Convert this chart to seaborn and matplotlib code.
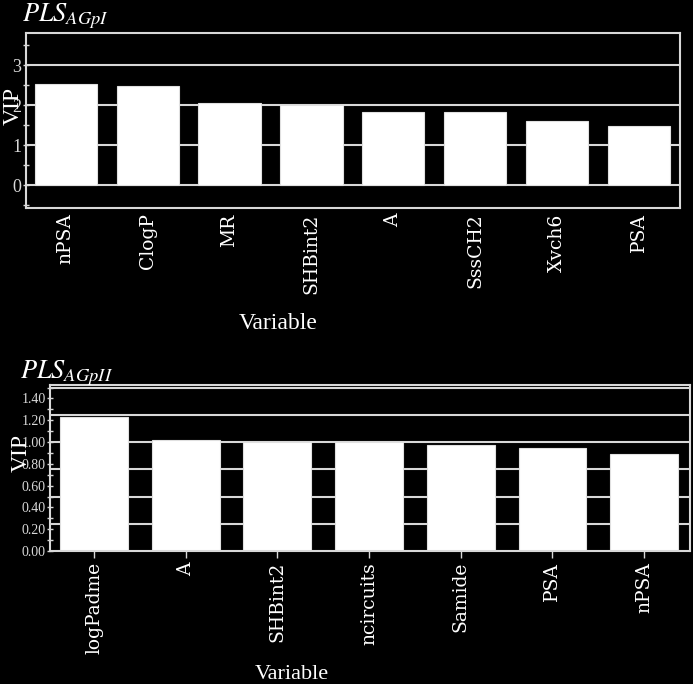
import matplotlib
matplotlib.use("Agg")
import matplotlib.pyplot as plt
import seaborn as sns
import numpy as np
import pandas as pd
from matplotlib.ticker import MultipleLocator, FormatStrFormatter

# ---- data ----
vars_top = ["nPSA", "ClogP", "MR", "SHBint2", "A", "SssCH2", "Xvch6", "PSA"]
vip_top = [2.52, 2.48, 2.06, 2.00, 1.82, 1.82, 1.60, 1.48]

vars_bot = ["logPadme", "A", "SHBint2", "ncircuits", "Samide", "PSA", "nPSA"]
vip_bot = [1.23, 1.02, 1.00, 1.00, 0.97, 0.945, 0.89]

title_top = r"$\mathit{PLS}_{\mathit{AGpI}}$"
title_bot = r"$\mathit{PLS}_{\mathit{AGpII}}$"

sns.set_style("dark")
plt.rcParams["mathtext.fontset"] = "stix"
plt.rcParams["font.family"] = ["Liberation Serif", "DejaVu Serif"]

FG = "#d8d8d8"
TICKFONT = "DejaVu Serif"
fig = plt.figure(figsize=(6.93, 6.84), dpi=100, facecolor="black")

def style_axes(ax):
    ax.set_facecolor("black")
    for s in ax.spines.values():
        s.set_visible(True)
        s.set_color(FG)
        s.set_linewidth(1.5)
    ax.grid(False)

def style_xlabels(ax):
    for lab in ax.get_xticklabels():
        lab.set_rotation(90)
        lab.set_family(TICKFONT)
        lab.set_fontsize(13.5)
        lab.set_color("white")
        lab.set_va("top")

# ---- top chart ----
ax1 = fig.add_axes([26/693, 1-208/684, 654/693, 175/684])
style_axes(ax1)
df1 = pd.DataFrame({"Variable": vars_top, "VIP": vip_top})
for y in [0, 1, 2, 3]:
    ax1.axhline(y, color=FG, lw=1.5, zorder=0)
sns.barplot(data=df1, x="Variable", y="VIP", ax=ax1, color="white",
            width=0.76, edgecolor="#e0e0e0", linewidth=0.8, saturation=1, zorder=2)
ax1.set_xlim(-0.485, 7.5)
ax1.set_ylim(-0.575, 3.8)
ax1.yaxis.set_major_locator(MultipleLocator(1))
ax1.yaxis.set_minor_locator(MultipleLocator(0.5))
ax1.yaxis.set_major_formatter(FormatStrFormatter("%d"))
ax1.tick_params(axis="y", which="both", direction="inout", length=5, width=1,
                colors=FG, labelsize=13, pad=1, left=True)
ax1.tick_params(axis="x", length=0, pad=4, colors=FG)
style_xlabels(ax1)
ax1.set_ylabel("VIP", color="white", fontsize=17)
ax1.yaxis.set_label_coords(-0.004, 0.583)
ax1.set_xlabel("Variable", color="white", fontsize=17)
ax1.xaxis.set_label_coords(0.385, -0.60)
ax1.xaxis.label.set_va("top")

# ---- bottom chart ----
ax2 = fig.add_axes([50/693, 1-551/684, 640/693, 166/684])
style_axes(ax2)
df2 = pd.DataFrame({"Variable": vars_bot, "VIP": vip_bot})
for y in np.arange(0.25, 1.51, 0.25):
    ax2.axhline(y, color=FG, lw=1.5, zorder=0)
sns.barplot(data=df2, x="Variable", y="VIP", ax=ax2, color="white",
            width=0.74, edgecolor="#e0e0e0", linewidth=0.8, saturation=1, zorder=2)
ax2.set_xlim(-0.48, 6.5)
ax2.set_ylim(0, 1.523)
ax2.yaxis.set_major_locator(MultipleLocator(0.2))
ax2.yaxis.set_minor_locator(MultipleLocator(0.1))
ax2.yaxis.set_major_formatter(FormatStrFormatter("%.2f"))
ax2.tick_params(axis="y", which="both", direction="inout", length=4, width=1,
                colors=FG, labelsize=10, pad=1, left=True)
ax2.tick_params(axis="x", direction="out", length=5, width=1, pad=3, colors=FG, bottom=True)
style_xlabels(ax2)
ax2.set_ylabel("VIP", color="white", fontsize=17)
ax2.yaxis.set_label_coords(-0.028, 0.59)
ax2.set_xlabel("Variable", color="white", fontsize=16)
ax2.xaxis.set_label_coords(0.378, -0.685)
ax2.xaxis.label.set_va("top")

# ---- titles ----
fig.text(22/693, 1-21/684, title_top, color="white", fontsize=19, va="baseline")
fig.text(20/693, 1-378/684, title_bot, color="white", fontsize=19, va="baseline")

fig.savefig("out.png", dpi=100, facecolor="black")
